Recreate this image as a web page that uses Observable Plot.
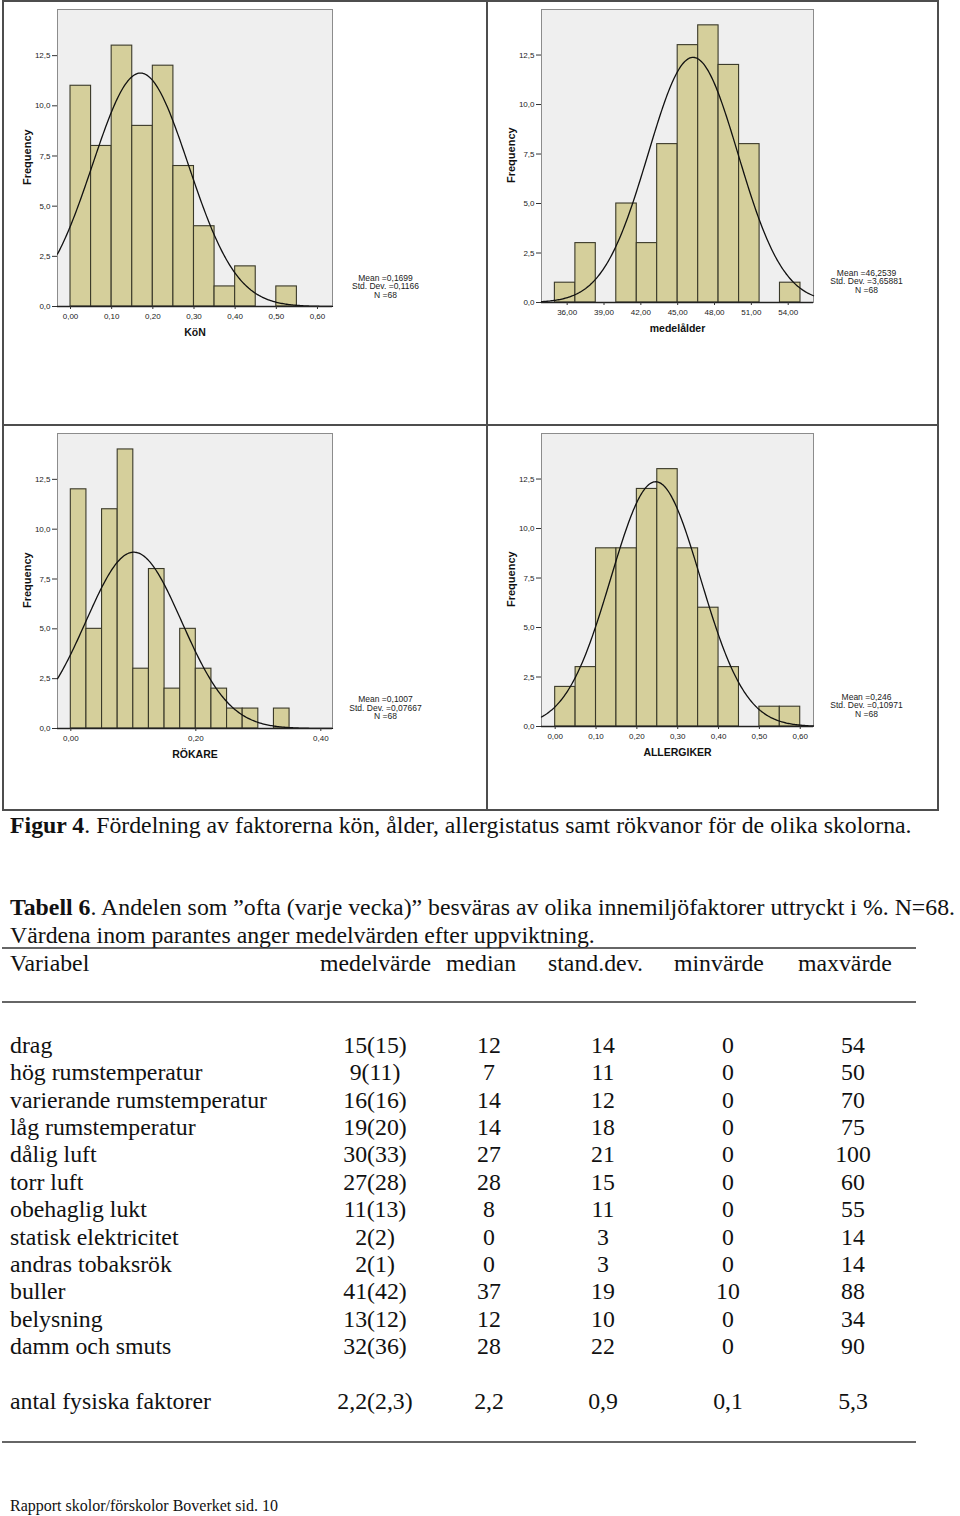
<!DOCTYPE html>
<html>
<head>
<meta charset="utf-8">
<script src="https://cdn.jsdelivr.net/npm/d3@7"></script>
<script src="https://cdn.jsdelivr.net/npm/@observablehq/plot@0.6"></script>
<style>
  body { margin: 0; background: #fff; }
  #page { position: relative; width: 960px; height: 1516px; overflow: hidden; background: #fff; }
  .panel { position: absolute; }
  .line { position: absolute; background: #4d4d4d; }
  #textlayer { position: absolute; left: 0; top: 0; }
  #textlayer text { font-family: "Liberation Serif", "Times New Roman", serif; fill: #111; }
</style>
</head>
<body>
<div id="page"></div>
<script>
// ---------- DATA ----------
const yTicks = [0, 2.5, 5, 7.5, 10, 12.5];
const yTickLabels = ["0,0", "2,5", "5,0", "7,5", "10,0", "12,5"];

// KöN
const konEdges = [0, 0.05, 0.10, 0.15, 0.20, 0.25, 0.30, 0.35, 0.40, 0.45, 0.50, 0.55];
const konCounts = [11, 8, 13, 9, 12, 7, 4, 1, 2, 0, 1];
const konTicks = [0, 0.1, 0.2, 0.3, 0.4, 0.5, 0.6];
const konTickLabels = ["0,00", "0,10", "0,20", "0,30", "0,40", "0,50", "0,60"];
const konStats = [0.1699, 0.1166, 68];
const konStatsText = ["Mean =0,1699", "Std. Dev. =0,1166", "N =68"];

// medelålder
const alderEdges = [35, 36.67, 38.33, 40, 41.67, 43.33, 45, 46.67, 48.33, 50, 51.67, 53.33, 55];
const alderCounts = [1, 3, 0, 5, 3, 8, 13, 14, 12, 8, 0, 1];
const alderTicks = [36, 39, 42, 45, 48, 51, 54];
const alderTickLabels = ["36,00", "39,00", "42,00", "45,00", "48,00", "51,00", "54,00"];
const alderStats = [46.2539, 3.65881, 68];
const alderStatsText = ["Mean =46,2539", "Std. Dev. =3,65881", "N =68"];

// RÖKARE
const rokEdges = [0, 0.025, 0.05, 0.075, 0.10, 0.125, 0.15, 0.175, 0.20, 0.225, 0.25, 0.275, 0.30, 0.325, 0.35];
const rokCounts = [12, 5, 11, 14, 3, 8, 2, 5, 3, 2, 1, 1, 0, 1];
const rokTicks = [0, 0.2, 0.4];
const rokTickLabels = ["0,00", "0,20", "0,40"];
const rokStats = [0.1007, 0.07667, 68];
const rokStatsText = ["Mean =0,1007", "Std. Dev. =0,07667", "N =68"];

// ALLERGIKER
const allEdges = [0, 0.05, 0.10, 0.15, 0.20, 0.25, 0.30, 0.35, 0.40, 0.45, 0.50, 0.55, 0.60];
const allCounts = [2, 3, 9, 9, 12, 13, 9, 6, 3, 0, 1, 1];
const allTicks = [0, 0.1, 0.2, 0.3, 0.4, 0.5, 0.6];
const allTickLabels = ["0,00", "0,10", "0,20", "0,30", "0,40", "0,50", "0,60"];
const allStats = [0.246, 0.10971, 68];
const allStatsText = ["Mean =0,246", "Std. Dev. =0,10971", "N =68"];

// Table
const tableHeader = ["Variabel", "medelvärde", "median", "stand.dev.", "minvärde", "maxvärde"];
const variables = ["drag", "hög rumstemperatur", "varierande rumstemperatur", "låg rumstemperatur", "dålig luft", "torr luft",
  "obehaglig lukt", "statisk elektricitet", "andras tobaksrök", "buller", "belysning", "damm och smuts"];
const medelValues = ["15(15)", "9(11)", "16(16)", "19(20)", "30(33)", "27(28)", "11(13)", "2(2)", "2(1)", "41(42)", "13(12)", "32(36)"];
const medianValues = ["12", "7", "14", "14", "27", "28", "8", "0", "0", "37", "12", "28"];
const sdValues = ["14", "11", "12", "18", "21", "15", "11", "3", "3", "19", "10", "22"];
const minValues = ["0", "0", "0", "0", "0", "0", "0", "0", "0", "10", "0", "0"];
const maxValues = ["54", "50", "70", "75", "100", "60", "55", "14", "14", "88", "34", "90"];
const totalRow = ["antal fysiska faktorer", "2,2(2,3)", "2,2", "0,9", "0,1", "5,3"];

// ---------- LAYOUT ----------
const panels = [
  {edges: konEdges, counts: konCounts, ticks: konTicks, tickLabels: konTickLabels, stats: konStats, statsText: konStatsText, label: "KöN",
   left: 3, top: 2, width: 484, height: 423, mt: 7, mr: 155, mb: 119, ml: 54, xDomain: [-0.0316, 0.6365], sdx: 53, sdy: -20},
  {edges: alderEdges, counts: alderCounts, ticks: alderTicks, tickLabels: alderTickLabels, stats: alderStats, statsText: alderStatsText, label: "medelålder",
   left: 487, top: 2, width: 451, height: 423, mt: 7, mr: 125, mb: 123, ml: 54, xDomain: [33.91, 56.06], sdx: 53, sdy: -21},
  {edges: rokEdges, counts: rokCounts, ticks: rokTicks, tickLabels: rokTickLabels, stats: rokStats, statsText: rokStatsText, label: "RÖKARE",
   left: 3, top: 425, width: 484, height: 385, mt: 8, mr: 155, mb: 82, ml: 54, xDomain: [-0.0213, 0.4187], sdx: 53, sdy: -20.5},
  {edges: allEdges, counts: allCounts, ticks: allTicks, tickLabels: allTickLabels, stats: allStats, statsText: allStatsText, label: "ALLERGIKER",
   left: 487, top: 425, width: 451, height: 385, mt: 8, mr: 125, mb: 84, ml: 54, xDomain: [-0.0335, 0.6325], sdx: 53, sdy: -21}
];

function normalCurve(stats, binWidth, domain) {
  const [mean, sd, n] = stats;
  const pts = [];
  const steps = 240;
  for (let i = 0; i <= steps; i++) {
    const x = domain[0] + (domain[1] - domain[0]) * i / steps;
    const z = (x - mean) / sd;
    pts.push({x, y: n * binWidth * Math.exp(-0.5 * z * z) / (sd * Math.sqrt(2 * Math.PI))});
  }
  return pts;
}

const page = document.getElementById("page");
const yLabelMap = new Map(yTicks.map((t, i) => [t, yTickLabels[i]]));

for (const p of panels) {
  const bins = p.counts.map((c, i) => ({x1: p.edges[i], x2: p.edges[i + 1], count: c})).filter(d => d.count > 0);
  const binWidth = p.edges[1] - p.edges[0];
  const curve = normalCurve(p.stats, binWidth, p.xDomain);
  const xLabelMap = new Map(p.ticks.map((t, i) => [t, p.tickLabels[i]]));
  const chart = Plot.plot({
    width: p.width, height: p.height,
    marginTop: p.mt, marginRight: p.mr, marginBottom: p.mb, marginLeft: p.ml,
    style: {fontFamily: "'Liberation Sans', Arial, sans-serif", fontSize: "8px", color: "#222", background: "transparent", overflow: "visible"},
    x: {domain: p.xDomain},
    y: {domain: [0, 14.8]},
    marks: [
      Plot.frame({fill: "#efefef", stroke: "#8c8c8c", strokeWidth: 1}),
      Plot.rectY(bins, {x1: "x1", x2: "x2", y: "count", fill: "#d5cf9b", stroke: "#3a3929", strokeWidth: 1.1}),
      Plot.line(curve, {x: "x", y: "y", stroke: "#111", strokeWidth: 1.3}),
      Plot.ruleY([0], {stroke: "#222", strokeWidth: 1.6}),
      Plot.axisY({ticks: yTicks, tickFormat: d => yLabelMap.get(d), tickSize: 5, tickPadding: 2, label: null, stroke: "#333"}),
      Plot.axisX({ticks: p.ticks, tickFormat: d => xLabelMap.get(d), tickSize: 3, tickPadding: 4, label: null, stroke: "#333"}),
      Plot.text([p.label], {frameAnchor: "bottom", dy: 26, fontWeight: "bold", fontSize: 10.5, lineAnchor: "middle", fill: "#111"}),
      Plot.text(["Frequency"], {frameAnchor: "left", rotate: -90, dx: -30, dy: 27, fontWeight: "bold", fontSize: 11, fill: "#111"}),
      Plot.text([p.statsText.join("\n")], {frameAnchor: "bottom-right", dx: p.sdx, dy: p.sdy, fontSize: 8.5, lineHeight: 1, textAnchor: "middle", lineAnchor: "middle", fill: "#222"})
    ]
  });
  const wrap = document.createElement("div");
  wrap.className = "panel";
  wrap.style.left = p.left + "px";
  wrap.style.top = p.top + "px";
  wrap.appendChild(chart);
  page.appendChild(wrap);
}

// Panel frame lines
const frameLines = [
  [2, 0, 937, 2], [2, 424, 937, 2], [2, 809, 937, 2],
  [2, 0, 2, 811], [486, 0, 2, 811], [937, 0, 2, 811]
];
for (const [l, t, w, h] of frameLines) {
  const d = document.createElement("div");
  d.className = "line";
  Object.assign(d.style, {left: l + "px", top: t + "px", width: w + "px", height: h + "px"});
  page.appendChild(d);
}

// ---------- TEXT & TABLE ----------
const svg = d3.select(page).append("svg").attr("id", "textlayer").attr("width", 960).attr("height", 1516);
const fs = 23.8;
function addText(x, y, parts, anchor = "start", size = fs) {
  const t = svg.append("text").attr("x", x).attr("y", y).attr("font-size", size).attr("text-anchor", anchor);
  for (const [s, bold] of parts) t.append("tspan").attr("font-weight", bold ? "bold" : "normal").text(s);
  return t;
}
addText(10, 833, [["Figur 4", true], [". Fördelning av faktorerna kön, ålder, allergistatus samt rökvanor för de olika skolorna.", false]]);
addText(10, 915, [["Tabell 6", true], [". Andelen som ”ofta (varje vecka)” besväras av olika innemiljöfaktorer uttryckt i %. N=68.", false]]);
addText(10, 943, [["Värdena inom parantes anger medelvärden efter uppviktning.", false]]);

const headerX = [10, 320, 446, 548, 674, 798];
tableHeader.forEach((h, i) => addText(headerX[i], 971, [[h, false]]));

const colCenters = [375, 489, 603, 728, 853];
const rowY0 = 1053, rowStep = 27.37;
variables.forEach((v, i) => {
  const y = rowY0 + i * rowStep;
  addText(10, y, [[v, false]]);
  [medelValues[i], medianValues[i], sdValues[i], minValues[i], maxValues[i]].forEach((val, j) =>
    addText(colCenters[j], y, [[val, false]], "middle"));
});
addText(10, 1409, [[totalRow[0], false]]);
totalRow.slice(1).forEach((val, j) => addText(colCenters[j], 1409, [[val, false]], "middle"));

for (const y of [948, 1002, 1442]) {
  svg.append("line").attr("x1", 2).attr("x2", 916).attr("y1", y).attr("y2", y).attr("stroke", "#333").attr("stroke-width", 1.5);
}
addText(10, 1511, [["Rapport skolor/förskolor Boverket sid. 10", false]], "start", 16);
</script>
</body>
</html>
